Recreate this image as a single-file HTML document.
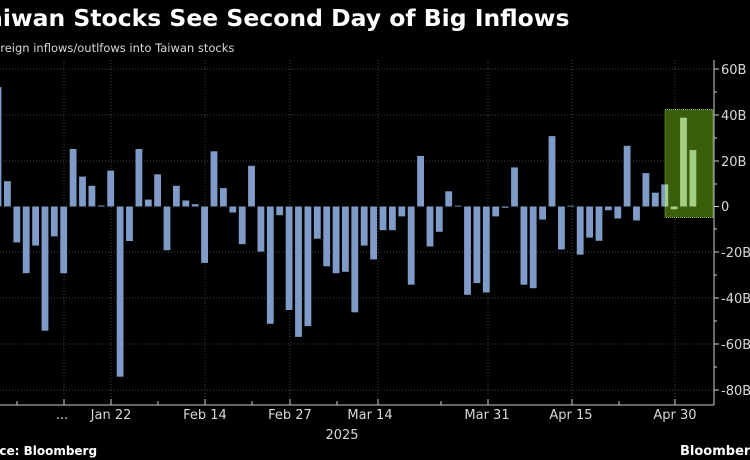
<!DOCTYPE html>
<html><head><meta charset="utf-8"><style>
body{margin:0;background:#000;}
svg{display:block}
text{font-family:"DejaVu Sans","Liberation Sans",sans-serif;fill:#d8d8d8}
</style></head><body>
<svg width="750" height="460" viewBox="0 0 750 460" xmlns="http://www.w3.org/2000/svg">
<rect width="750" height="460" fill="#000"/>
<text x="-26" y="26" font-size="23.5" font-weight="bold" style="fill:#fff">Taiwan Stocks See Second Day of Big Inflows</text>
<text x="-13" y="52" font-size="11.5">Foreign inflows/outlfows into Taiwan stocks</text>
<g stroke="#444" stroke-width="1" stroke-dasharray="1,2">
<line x1="0" y1="69" x2="714" y2="69"/><line x1="0" y1="115" x2="714" y2="115"/><line x1="0" y1="161" x2="714" y2="161"/><line x1="0" y1="252" x2="714" y2="252"/><line x1="0" y1="298" x2="714" y2="298"/><line x1="0" y1="344" x2="714" y2="344"/><line x1="0" y1="390" x2="714" y2="390"/>
<line x1="64" y1="60" x2="64" y2="405"/><line x1="111" y1="60" x2="111" y2="405"/><line x1="205" y1="60" x2="205" y2="405"/><line x1="290" y1="60" x2="290" y2="405"/><line x1="378" y1="60" x2="378" y2="405"/><line x1="488" y1="60" x2="488" y2="405"/><line x1="572" y1="60" x2="572" y2="405"/><line x1="675" y1="60" x2="675" y2="405"/>
</g>
<rect x="665" y="109.5" width="48" height="108" fill="#3b5e0c" stroke="#8cc04a" stroke-dasharray="1,1"/>
<g fill="#7f9cc8">
<rect x="-5.4" y="87.1" width="6.8" height="119.4"/>
<rect x="4.0" y="181.2" width="6.8" height="25.3"/>
<rect x="13.4" y="206.5" width="6.8" height="35.9"/>
<rect x="22.8" y="206.5" width="6.8" height="66.7"/>
<rect x="32.2" y="206.5" width="6.8" height="39.1"/>
<rect x="41.6" y="206.5" width="6.8" height="124.2"/>
<rect x="50.9" y="206.5" width="6.8" height="29.9"/>
<rect x="60.3" y="206.5" width="6.8" height="66.7"/>
<rect x="69.7" y="149" width="6.8" height="57.5"/>
<rect x="79.1" y="176.6" width="6.8" height="29.9"/>
<rect x="88.5" y="185.8" width="6.8" height="20.7"/>
<rect x="97.9" y="205.5" width="6.8" height="1"/>
<rect x="107.3" y="170.6" width="6.8" height="35.9"/>
<rect x="116.7" y="206.5" width="6.8" height="170.2"/>
<rect x="126.1" y="206.5" width="6.8" height="34.5"/>
<rect x="135.5" y="149" width="6.8" height="57.5"/>
<rect x="144.9" y="199.6" width="6.8" height="6.9"/>
<rect x="154.2" y="174.3" width="6.8" height="32.2"/>
<rect x="163.6" y="206.5" width="6.8" height="43.7"/>
<rect x="173.0" y="185.8" width="6.8" height="20.7"/>
<rect x="182.4" y="200.5" width="6.8" height="6"/>
<rect x="191.8" y="204.2" width="6.8" height="2.3"/>
<rect x="201.2" y="206.5" width="6.8" height="56.4"/>
<rect x="210.6" y="151.3" width="6.8" height="55.2"/>
<rect x="220.0" y="188.1" width="6.8" height="18.4"/>
<rect x="229.4" y="206.5" width="6.8" height="6"/>
<rect x="238.8" y="206.5" width="6.8" height="37.7"/>
<rect x="248.1" y="165.8" width="6.8" height="40.7"/>
<rect x="257.5" y="206.5" width="6.8" height="45.1"/>
<rect x="266.9" y="206.5" width="6.8" height="117.3"/>
<rect x="276.3" y="206.5" width="6.8" height="8.7"/>
<rect x="285.7" y="206.5" width="6.8" height="103.5"/>
<rect x="295.1" y="206.5" width="6.8" height="130.4"/>
<rect x="304.5" y="206.5" width="6.8" height="119.6"/>
<rect x="313.9" y="206.5" width="6.8" height="32.2"/>
<rect x="323.3" y="206.5" width="6.8" height="59.8"/>
<rect x="332.7" y="206.5" width="6.8" height="66.7"/>
<rect x="342.0" y="206.5" width="6.8" height="65.3"/>
<rect x="351.4" y="206.5" width="6.8" height="105.8"/>
<rect x="360.8" y="206.5" width="6.8" height="39.1"/>
<rect x="370.2" y="206.5" width="6.8" height="52.9"/>
<rect x="379.6" y="206.5" width="6.8" height="23.7"/>
<rect x="389.0" y="206.5" width="6.8" height="23.7"/>
<rect x="398.4" y="206.5" width="6.8" height="9.9"/>
<rect x="407.8" y="206.5" width="6.8" height="78.2"/>
<rect x="417.2" y="155.9" width="6.8" height="50.6"/>
<rect x="426.6" y="206.5" width="6.8" height="40"/>
<rect x="435.9" y="206.5" width="6.8" height="25.3"/>
<rect x="445.3" y="191.3" width="6.8" height="15.2"/>
<rect x="454.7" y="205.7" width="6.8" height="0.8"/>
<rect x="464.1" y="206.5" width="6.8" height="88.3"/>
<rect x="473.5" y="206.5" width="6.8" height="76.6"/>
<rect x="482.9" y="206.5" width="6.8" height="86"/>
<rect x="492.3" y="206.5" width="6.8" height="9.9"/>
<rect x="501.7" y="206.5" width="6.8" height="1.2"/>
<rect x="511.1" y="167.4" width="6.8" height="39.1"/>
<rect x="520.5" y="206.5" width="6.8" height="78.2"/>
<rect x="529.8" y="206.5" width="6.8" height="81.7"/>
<rect x="539.2" y="206.5" width="6.8" height="13.1"/>
<rect x="548.6" y="136.1" width="6.8" height="70.4"/>
<rect x="558.0" y="206.5" width="6.8" height="43"/>
<rect x="567.4" y="205.7" width="6.8" height="0.8"/>
<rect x="576.8" y="206.5" width="6.8" height="48.1"/>
<rect x="586.2" y="206.5" width="6.8" height="31.1"/>
<rect x="595.6" y="206.5" width="6.8" height="34.3"/>
<rect x="605.0" y="206.5" width="6.8" height="3.7"/>
<rect x="614.4" y="206.5" width="6.8" height="12"/>
<rect x="623.7" y="145.8" width="6.8" height="60.7"/>
<rect x="633.1" y="206.5" width="6.8" height="14"/>
<rect x="642.5" y="173.1" width="6.8" height="33.4"/>
<rect x="651.9" y="192.7" width="6.8" height="13.8"/>
<rect x="661.3" y="184.4" width="6.8" height="22.1"/>
</g>
<g fill="#a4cf86">
<rect x="665" y="184.4" width="3.1" height="22.1"/>
<rect x="670.7" y="206.5" width="6.8" height="2.8"/>
<rect x="680.1" y="117.7" width="6.8" height="88.8"/>
<rect x="689.5" y="150.1" width="6.8" height="56.4"/>
</g>
<line x1="714" y1="60" x2="714" y2="405" stroke="#ccc"/>
<line x1="0" y1="405" x2="714" y2="405" stroke="#ccc"/>
<g stroke="#ccc">
<line x1="714" y1="69" x2="719" y2="69"/><line x1="714" y1="115" x2="719" y2="115"/><line x1="714" y1="161" x2="719" y2="161"/><line x1="714" y1="206.5" x2="719" y2="206.5"/><line x1="714" y1="252" x2="719" y2="252"/><line x1="714" y1="298" x2="719" y2="298"/><line x1="714" y1="344" x2="719" y2="344"/><line x1="714" y1="390" x2="719" y2="390"/>
<line x1="714" y1="92" x2="717" y2="92"/><line x1="714" y1="138" x2="717" y2="138"/><line x1="714" y1="184" x2="717" y2="184"/><line x1="714" y1="229" x2="717" y2="229"/><line x1="714" y1="275" x2="717" y2="275"/><line x1="714" y1="321" x2="717" y2="321"/><line x1="714" y1="367" x2="717" y2="367"/>
<line x1="17" y1="405" x2="17" y2="401"/><line x1="64" y1="405" x2="64" y2="399"/><line x1="111" y1="405" x2="111" y2="399"/><line x1="158" y1="405" x2="158" y2="401"/><line x1="205" y1="405" x2="205" y2="399"/><line x1="252" y1="405" x2="252" y2="401"/><line x1="290" y1="405" x2="290" y2="399"/><line x1="337" y1="405" x2="337" y2="401"/><line x1="378" y1="405" x2="378" y2="399"/><line x1="441" y1="405" x2="441" y2="401"/><line x1="488" y1="405" x2="488" y2="399"/><line x1="572" y1="405" x2="572" y2="399"/><line x1="619" y1="405" x2="619" y2="401"/><line x1="675" y1="405" x2="675" y2="399"/>
</g>
<g font-size="13">
<text x="721" y="74">60B</text><text x="721" y="120">40B</text><text x="721" y="166">20B</text><text x="721" y="211">0</text><text x="721" y="257">-20B</text><text x="721" y="303">-40B</text><text x="721" y="349">-60B</text><text x="721" y="395">-80B</text>
</g>
<g font-size="13" text-anchor="middle">
<text x="62" y="419">...</text><text x="111" y="419">Jan 22</text><text x="205" y="419">Feb 14</text><text x="290" y="419">Feb 27</text><text x="370" y="419">Mar 14</text><text x="487" y="419">Mar 31</text><text x="571" y="419">Apr 15</text><text x="675" y="419">Apr 30</text>
<text x="342" y="439">2025</text>
</g>
<text x="-32" y="455" font-size="12" font-weight="bold" style="fill:#fff">Source: Bloomberg</text>
<text x="680" y="455" font-size="13" font-weight="bold" style="fill:#fff">Bloomberg</text>
</svg>
</body></html>
